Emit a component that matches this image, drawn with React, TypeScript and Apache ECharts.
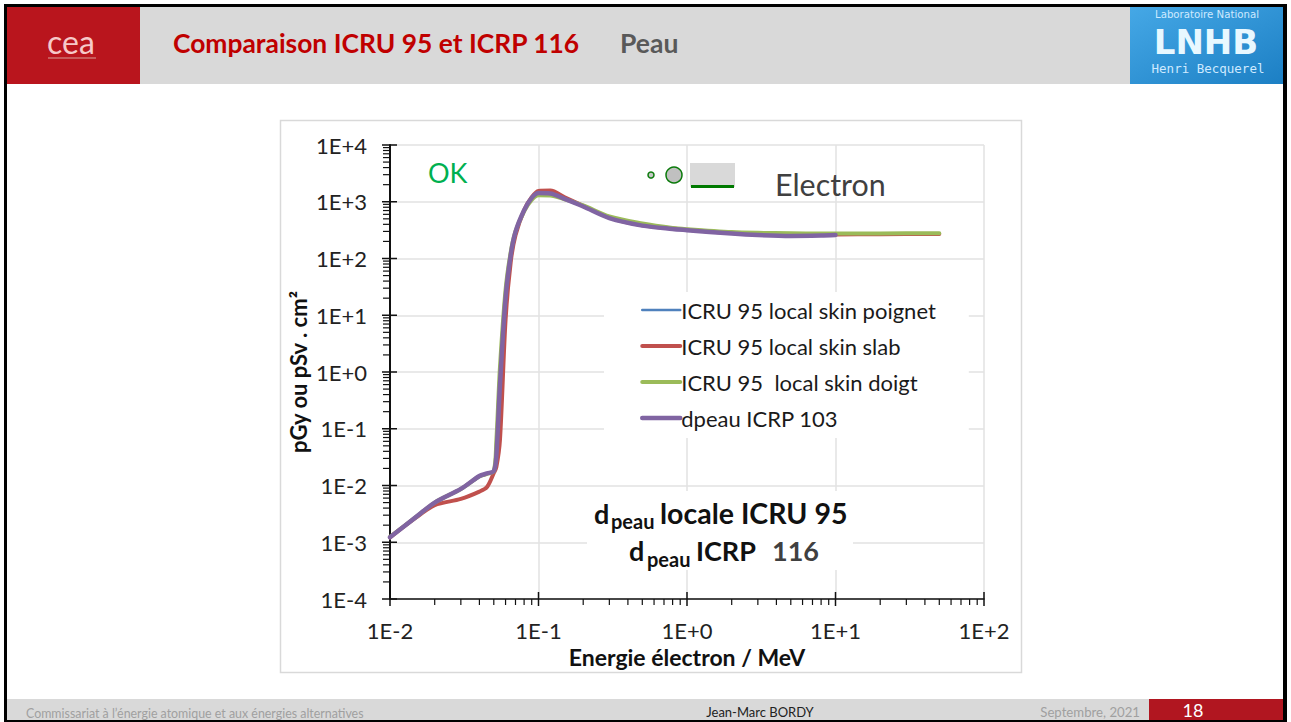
import React, { useEffect, useRef } from "react";
import * as echarts from "echarts";

const energies = [0.01,0.015,0.02,0.03,0.04,0.045,0.05,0.052,0.055,0.06,0.065,0.07,0.08,0.09,0.1,0.12,0.15,0.2,0.3,0.5,0.8,1,2,3,5,8,10,20,50];
const poignet = [1.25e-3,2.8e-3,5e-3,8.6e-3,1.4e-2,1.6e-2,1.8e-2,0.05,1.0,25,125,300,690,1100,1330,1320,1110,860,545,410,342,325,290,280,276,275,274,276,278];
const slab = [1.22e-3,2.73e-3,4.5e-3,5.8e-3,7.8e-3,9.4e-3,1.66e-2,2.1e-2,0.063,8.3,87,257,710,1200,1550,1580,1200,850,528,385,340,320,280,268,265,265,265,268,270];
const doigt = [1.25e-3,2.8e-3,5e-3,8.7e-3,1.45e-2,1.6e-2,1.8e-2,0.06,1.2,28,130,300,680,1080,1300,1290,1100,860,550,415,345,328,292,283,278,276,275,277,278];
const dpeau = [1.22e-3,2.8e-3,5e-3,8.7e-3,1.47e-2,1.63e-2,1.8e-2,3.3e-2,0.59,20,115,295,710,1170,1420,1400,1120,825,515,380,331,316,275,259,250,254,259];

const seriesNames = ["ICRU 95 local skin poignet", "ICRU 95 local skin slab", "ICRU 95  local skin doigt", "dpeau ICRP 103"];
const xExponents = [-2, -1, 0, 1, 2];
const yExponents = [-4, -3, -2, -1, 0, 1, 2, 3, 4];
const xTickLabels = ["1E-2", "1E-1", "1E+0", "1E+1", "1E+2"];
const yTickLabels = ["1E-4", "1E-3", "1E-2", "1E-1", "1E+0", "1E+1", "1E+2", "1E+3", "1E+4"];
const mantissas = [2, 3, 4, 5, 6, 7, 8, 9];

const FONT = "Lato";

const pairs = (v: number[]) => v.map((y, i) => [energies[i], y]);

function lineSeries(name: string, values: number[], color: string, width: number, z: number) {
  return {
    name, type: "line", data: pairs(values), showSymbol: false, symbol: "none",
    smooth: 0.3,
    lineStyle: { color, width, cap: "round", join: "round" }, itemStyle: { color }, z, silent: true,
  };
}

function text(x: number, y: number, t: string, fontSize: number, fill: string, opts: any = {}) {
  const { fontWeight, align, fontFamily, ...rest } = opts;
  return {
    type: "text", x, y, z: 3, silent: true, ...rest,
    style: { text: t, fontSize, fill, fontFamily: fontFamily || FONT, fontWeight: fontWeight || "normal", textAlign: align || "left", textVerticalAlign: "middle" },
  };
}
const rect = (x: number, y: number, width: number, height: number, fill: any, z = 1) => ({
  type: "rect", z, silent: true, shape: { x, y, width, height }, style: { fill },
});

export default function App() {
  const ref = useRef<HTMLDivElement>(null);
  useEffect(() => {
    document.body.style.margin = "0";
    const chart = echarts.init(ref.current!, null, { renderer: "svg" });
    const tickData: number[][] = [];
    xExponents.forEach((e) => {
      tickData.push([Math.pow(10, e), 1e-4, 1]);
      if (e < 2) mantissas.forEach((m) => tickData.push([m * Math.pow(10, e), 1e-4, 0]));
    });
    yExponents.forEach((e) => {
      tickData.push([0.01, Math.pow(10, e), 3]);
      if (e < 4) mantissas.forEach((m) => tickData.push([0.01, m * Math.pow(10, e), 2]));
    });
    const blue = new echarts.graphic.LinearGradient(0, 0, 1, 1, [
      { offset: 0, color: "#45a8e6" }, { offset: 1, color: "#1c7fc4" },
    ]);
    const legendWidths = [2.5, 4, 4, 4.5];
    chart.setOption({
      animation: false,
      backgroundColor: "#ffffff",
      textStyle: { fontFamily: FONT },
      grid: { left: 390, top: 145, width: 594, height: 454, show: true, borderColor: "#222222", borderWidth: 1, z: 0 },
      xAxis: {
        type: "log", logBase: 10, min: 0.01, max: 100, interval: 1,
        name: "Energie électron / MeV", nameLocation: "middle", nameGap: 44,
        nameTextStyle: { fontFamily: FONT, fontWeight: "bold", fontSize: 23, color: "#111111" },
        axisLine: { show: true, lineStyle: { color: "#111111", width: 1.5 } },
        axisTick: { show: false }, minorTick: { show: false },
        axisLabel: { fontFamily: FONT, fontSize: 22, color: "#222222", margin: 20,
          formatter: (v: number) => xTickLabels[xExponents.indexOf(Math.round(Math.log10(v)))] },
        splitLine: { show: true, lineStyle: { color: "#e2e2e2", width: 1.5 } },
      },
      yAxis: {
        type: "log", logBase: 10, min: 1e-4, max: 1e4, interval: 1,
        name: "pGy ou pSv . cm²", nameLocation: "middle", nameGap: 81,
        nameTextStyle: { fontFamily: FONT, fontWeight: "bold", fontSize: 22, color: "#111111" },
        axisLine: { show: true, lineStyle: { color: "#111111", width: 2 } },
        axisTick: { show: false }, minorTick: { show: false },
        axisLabel: { fontFamily: FONT, fontSize: 22, color: "#222222", margin: 23,
          formatter: (v: number) => yTickLabels[yExponents.indexOf(Math.round(Math.log10(v)))] },
        splitLine: { show: true, lineStyle: { color: "#e2e2e2", width: 1.5 } },
      },
      legend: {
        show: true, orient: "vertical", left: 604, top: 292, z: 2,
        data: seriesNames.map((name, i) => ({ name, lineStyle: { width: legendWidths[i] } })),
        itemWidth: 38, itemHeight: 14, itemGap: 14,
        itemStyle: { opacity: 0 },
        padding: [7, 33, 9, 36], backgroundColor: "#ffffff",
        textStyle: { fontFamily: FONT, fontSize: 22, color: "#1a1a1a", padding: [0, 0, 0, -4] },
        selectedMode: false,
      },
      series: [
        lineSeries(seriesNames[0], poignet, "#4f81bd", 2.5, 3),
        lineSeries(seriesNames[1], slab, "#c0504d", 4, 4),
        lineSeries(seriesNames[2], doigt, "#9bbb59", 4, 5),
        lineSeries(seriesNames[3], dpeau, "#8064a2", 4.5, 6),
        {
          type: "custom", coordinateSystem: "cartesian2d", silent: true, clip: false, z: 8, data: tickData,
          encode: { x: 0, y: 1 },
          renderItem: (_: any, api: any) => {
            const p = api.coord([api.value(0), api.value(1)]);
            const k = api.value(2);
            let s: any;
            if (k === 0) s = { x1: p[0], y1: p[1], x2: p[0], y2: p[1] + 6 };
            else if (k === 1) s = { x1: p[0], y1: p[1] - 7, x2: p[0], y2: p[1] + 7 };
            else if (k === 2) s = { x1: p[0] - 7, y1: p[1], x2: p[0], y2: p[1] };
            else s = { x1: p[0] - 8, y1: p[1], x2: p[0] + 7, y2: p[1] };
            return { type: "line", shape: s, style: { stroke: "#111111", lineWidth: k === 1 || k === 3 ? 1.5 : 1.2 } };
          },
        },
      ],
      graphic: {
        elements: [
          rect(4, 4, 1283, 718, "#000000", 0),
          rect(7, 7, 1276, 713, "#ffffff", 0),
          rect(7, 7, 133, 77, "#b9151d"),
          rect(140, 7, 990, 77, "#d9d9d9"),
          rect(1130, 7, 153, 77, blue),
          rect(7, 699, 1276, 21, "#d9d9d9"),
          rect(1149, 699, 134, 21, "#b11620"),
          text(71, 41, "cea", 32, "#f6c9c9", { align: "center" }),
          rect(48, 57, 48, 2, "#c95a5a", 2),
          text(173, 43, "Comparaison ICRU 95 et ICRP 116", 26.4, "#c00000", { fontWeight: "bold" }),
          text(620, 43, "Peau", 26.5, "#595959", { fontWeight: "bold" }),
          text(1207, 14, "Laboratoire National", 10.2, "#cfeaff", { align: "center", fontFamily: "DejaVu Sans" }),
          text(1206, 42, "LNHB", 34, "#e8f8ff", { align: "center", fontFamily: "DejaVu Sans", fontWeight: "bold" }),
          text(1208, 68, "Henri Becquerel", 12.5, "#cfeaff", { align: "center", fontFamily: "DejaVu Sans Mono" }),
          { type: "rect", z: 1, silent: true, shape: { x: 280.5, y: 120.5, width: 741, height: 552 }, style: { fill: "none", stroke: "#d9d9d9", lineWidth: 1.5 } },
          rect(587, 491, 266, 79, "#ffffff", 1),
          text(428, 172, "OK", 27, "#00b050"),
          { type: "circle", z: 3, silent: true, shape: { cx: 651, cy: 175, r: 3 }, style: { fill: "#c8c8c8", stroke: "#0a7a0a", lineWidth: 1.5 } },
          { type: "circle", z: 3, silent: true, shape: { cx: 674, cy: 175, r: 8 }, style: { fill: "#c0c0c0", stroke: "#0a7a0a", lineWidth: 1.5 } },
          rect(690, 163, 45, 24, "#d9d9d9", 3),
          rect(691, 185, 43, 3, "#007a00", 3),
          text(775, 184, "Electron", 30.4, "#404040"),
          text(594, 513, "d", 27, "#111111", { fontWeight: "bold" }),
          text(611, 521, "peau", 20, "#111111", { fontWeight: "bold" }),
          text(660, 513, "locale ICRU 95", 28.5, "#111111", { fontWeight: "bold" }),
          text(629, 550, "d", 27, "#111111", { fontWeight: "bold" }),
          text(647, 559, "peau", 20, "#111111", { fontWeight: "bold" }),
          text(696, 550, "ICRP", 27, "#111111", { fontWeight: "bold" }),
          text(772, 550, "116", 27, "#404040", { fontWeight: "bold" }),
          text(26, 713, "Commissariat à l’énergie atomique et aux énergies alternatives", 12.4, "#a0a0a0"),
          text(760, 712, "Jean-Marc BORDY", 13, "#222222", { align: "center" }),
          text(1140, 712, "Septembre, 2021", 13.2, "#a0a0a0", { align: "right" }),
          text(1193, 710, "18", 18, "#ffffff", { align: "center" }),
        ],
      },
    });
    return () => chart.dispose();
  }, []);
  return <div ref={ref} style={{ position: "fixed", left: 0, top: 0, width: 1291, height: 722 }} />;
}
